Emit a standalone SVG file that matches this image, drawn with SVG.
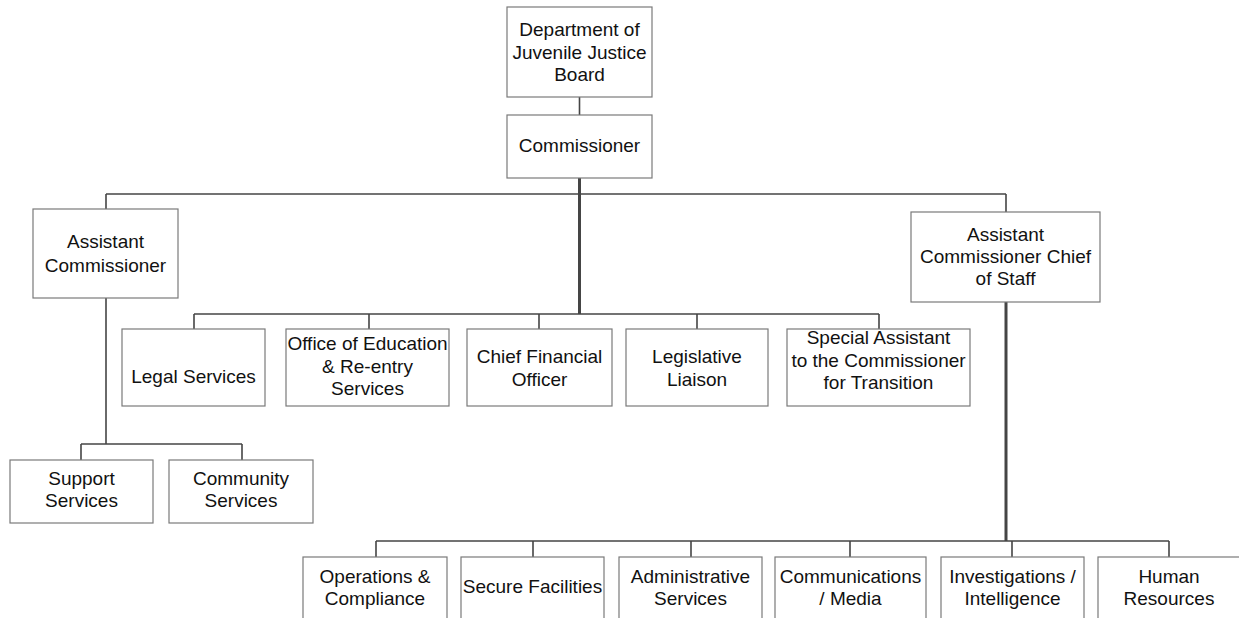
<svg xmlns="http://www.w3.org/2000/svg" width="1239" height="618" viewBox="0 0 1239 618">
<style>
.box{fill:#ffffff;stroke:#7a7a7a;stroke-width:1.2}
.t{font-family:"Liberation Sans",Arial,sans-serif;font-size:19px;fill:#111111;text-anchor:middle}
.c{fill:none;stroke:#454545;stroke-width:1.6}
.ck{fill:none;stroke:#454545;stroke-width:3}
</style>
<rect width="1239" height="618" fill="#ffffff"/>
<g id="connectors">
<path class="c" d="M579.5 97V115"/>
<path class="ck" d="M579.5 178V314"/>
<path class="c" d="M106 194H1006 M106 194V209 M1006 194V212"/>
<path class="c" d="M106 298V444"/>
<path class="ck" d="M1006 302V541"/>
<path class="c" d="M194 314H879 M194 314V329 M369 314V329 M539 314V329 M697 314V329 M879 314V329"/>
<path class="c" d="M81 444H242 M81 444V460 M242 444V460"/>
<path class="c" d="M376 541H1169 M376 541V557 M533 541V557 M691 541V557 M850 541V557 M1012 541V557 M1169 541V557"/>
</g>
<g id="board"><rect class="box" x="507" y="7" width="145" height="90"/><text class="t" x="579.5" y="36">Department of</text><text class="t" x="579.5" y="58.5">Juvenile Justice</text><text class="t" x="579.5" y="81">Board</text></g>
<g id="commissioner"><rect class="box" x="507" y="115" width="145" height="63"/><text class="t" x="579.5" y="152">Commissioner</text></g>
<g id="assistant-commissioner"><rect class="box" x="33" y="209" width="145" height="89"/><text class="t" x="105.5" y="248">Assistant</text><text class="t" x="105.5" y="272">Commissioner</text></g>
<g id="chief-of-staff"><rect class="box" x="911" y="212" width="189" height="90"/><text class="t" x="1005.5" y="240.5">Assistant</text><text class="t" x="1005.5" y="262.5">Commissioner Chief</text><text class="t" x="1005.5" y="285">of Staff</text></g>
<g id="legal"><rect class="box" x="122" y="329" width="143" height="77"/><text class="t" x="193.5" y="383">Legal Services</text></g>
<g id="education"><rect class="box" x="286" y="329" width="163" height="77"/><text class="t" x="367.5" y="350">Office of Education</text><text class="t" x="367.5" y="373">&amp; Re-entry</text><text class="t" x="367.5" y="395">Services</text></g>
<g id="cfo"><rect class="box" x="467" y="329" width="145" height="77"/><text class="t" x="539.5" y="363">Chief Financial</text><text class="t" x="539.5" y="386">Officer</text></g>
<g id="legislative"><rect class="box" x="626" y="329" width="142" height="77"/><text class="t" x="697" y="363">Legislative</text><text class="t" x="697" y="386">Liaison</text></g>
<g id="special-assistant"><rect class="box" x="787" y="329" width="183" height="77"/><text class="t" x="878.5" y="344">Special Assistant</text><text class="t" x="878.5" y="367">to the Commissioner</text><text class="t" x="878.5" y="389">for Transition</text></g>
<g id="support"><rect class="box" x="10" y="460" width="143" height="63"/><text class="t" x="81.5" y="485">Support</text><text class="t" x="81.5" y="507">Services</text></g>
<g id="community"><rect class="box" x="169" y="460" width="144" height="63"/><text class="t" x="241" y="485">Community</text><text class="t" x="241" y="507">Services</text></g>
<g id="operations"><rect class="box" x="303" y="557" width="144" height="80"/><text class="t" x="375" y="583">Operations &amp;</text><text class="t" x="375" y="605">Compliance</text></g>
<g id="secure"><rect class="box" x="461" y="557" width="143" height="80"/><text class="t" x="532.5" y="593">Secure Facilities</text></g>
<g id="administrative"><rect class="box" x="619" y="557" width="143" height="80"/><text class="t" x="690.5" y="583">Administrative</text><text class="t" x="690.5" y="605">Services</text></g>
<g id="communications"><rect class="box" x="775" y="557" width="151" height="80"/><text class="t" x="850.5" y="583">Communications</text><text class="t" x="850.5" y="605">/ Media</text></g>
<g id="investigations"><rect class="box" x="941" y="557" width="143" height="80"/><text class="t" x="1012.5" y="583">Investigations /</text><text class="t" x="1012.5" y="605">Intelligence</text></g>
<g id="human-resources"><rect class="box" x="1098" y="557" width="142" height="80"/><text class="t" x="1169" y="583">Human</text><text class="t" x="1169" y="605">Resources</text></g>
</svg>
